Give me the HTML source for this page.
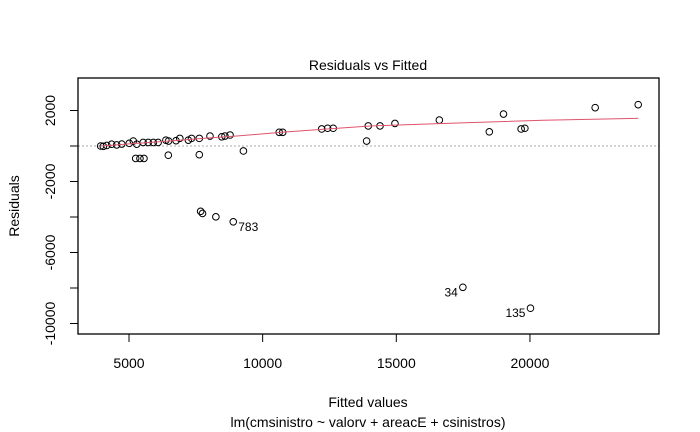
<!DOCTYPE html>
<html><head><meta charset="utf-8"><style>
body{margin:0;background:#fff}
svg{display:block;font-family:"Liberation Sans",Arial,sans-serif}
</style></head><body>
<svg id="chart" width="700" height="432" viewBox="0 0 700 432">
<text x="368" y="70" text-anchor="middle" font-size="14">Residuals vs Fitted</text>
<text x="368" y="407" text-anchor="middle" font-size="14">Fitted values</text>
<text x="368" y="427" text-anchor="middle" font-size="14">lm(cmsinistro ~ valorv + areacE + csinistros)</text>
<text transform="translate(19,206) rotate(-90)" text-anchor="middle" font-size="14">Residuals</text>
<g id="axes"></g><g id="marks"></g>
<rect x="78" y="78" width="581" height="256" fill="none" stroke="#000" stroke-width="1.3"/>
</svg>
<script>
const fittedX=[3940,4040,4170,4350,4540,4730,5010,5160,5290,5530,5720,5910,6090,6380,6480,6760,6900,7220,7340,7630,8030,8470,8590,8780,10620,10750,12210,12430,12640,13890,13950,5250,5410,5560,6470,7630,9280,7680,7750,8250,8900,14390,14950,16610,18480,19010,19670,19810,22440,24050,17490,20020];
const residY=[0,-20,30,100,60,110,150,280,100,200,200,200,200,330,280,300,430,330,430,430,560,520,560,620,770,770,960,1000,1000,280,1130,-700,-700,-700,-520,-490,-280,-3680,-3800,-3990,-4270,1130,1270,1460,800,1800,960,1000,2160,2330,-7960,-9140];
const smoothX=[3940,5290,6530,7770,9030,10650,14020,15760,18010,20490,24050];
const smoothY=[0,150,280,430,560,770,1130,1220,1330,1450,1560];
const xTicks=[5000,10000,15000,20000];
const yTicks=[-10000,-8000,-6000,-4000,-2000,0,2000];
const yTickLabels=["-10000","","-6000","","-2000","","2000"];
const labelIdx=[40,50,51];
const labelText=["783","34","135"];
const NS="http://www.w3.org/2000/svg";
const sx=v=>129+(v-5000)*0.02673;
const sy=v=>146-v*0.01775;
const ax=document.getElementById('axes'),mk=document.getElementById('marks');
function mkEl(t,a,p){const e=document.createElementNS(NS,t);for(const k in a)e.setAttribute(k,a[k]);p.appendChild(e);return e;}
xTicks.forEach(v=>{
 const l=mkEl('line',{x1:sx(v),x2:sx(v),y1:334,y2:342,stroke:'#000'},ax);
 
 
 const t=mkEl('text',{x:sx(v),y:368,'text-anchor':'middle','font-size':14},ax);t.textContent=v;
 
 
});
yTicks.forEach((v,i)=>{
 const l=mkEl('line',{x1:70,x2:78,y1:sy(v),y2:sy(v),stroke:'#000'},ax);
 
 
 if(yTickLabels[i]){const t=mkEl('text',{transform:`translate(55,${sy(v)}) rotate(-90)`,'text-anchor':'middle','font-size':14},ax);t.textContent=yTickLabels[i];
 
 }
});
const z=mkEl('line',{x1:78,x2:659,y1:sy(0),y2:sy(0),stroke:'#aaa','stroke-dasharray':'2,2'},mk);


fittedX.forEach((v,i)=>{
 const c=mkEl('circle',{cx:sx(v),cy:sy(residY[i]),r:3.3,fill:'none',stroke:'#000','stroke-width':1},mk);
 
 
});
const pl=mkEl('polyline',{points:smoothX.map((v,i)=>sx(v)+','+sy(smoothY[i])).join(' '),fill:'none',stroke:'#DF536B','stroke-width':1},mk);


labelIdx.forEach((idx,k)=>{
 const px=sx(fittedX[idx]),py=sy(residY[idx]);
 const right=k===0;
 const t=mkEl('text',{x:right?px+5:px-5,y:py+9,'text-anchor':right?'start':'end','font-size':12},mk);
 t.textContent=labelText[k];
 
 
});
</script>
</body></html>
